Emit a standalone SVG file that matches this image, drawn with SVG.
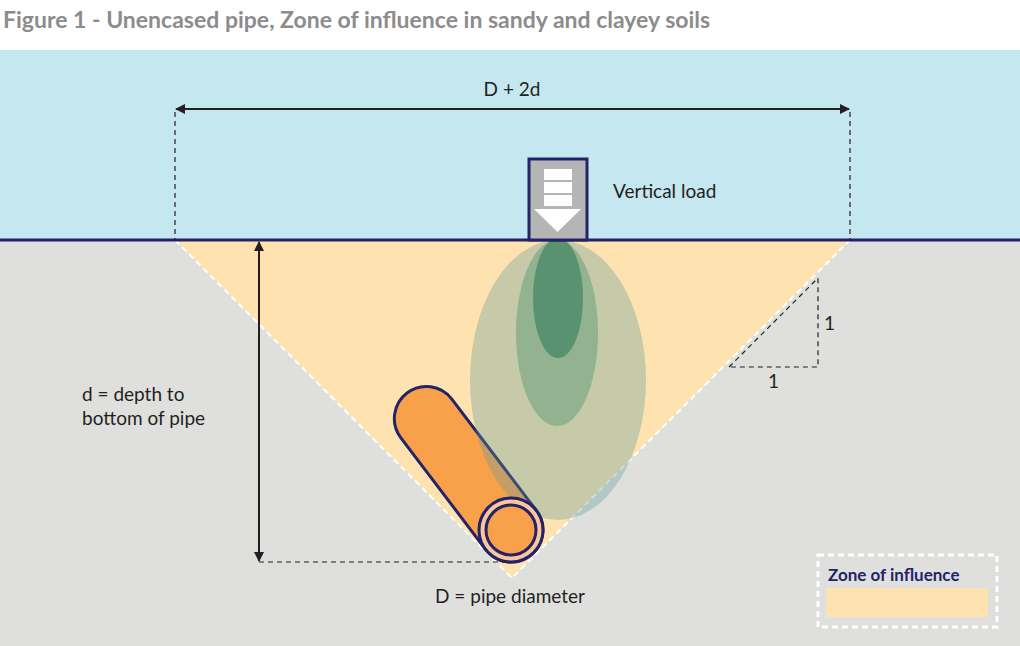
<svg xmlns="http://www.w3.org/2000/svg" width="1020" height="646" viewBox="0 0 1020 646">
<style>
.t{font-family:"Lato","Liberation Sans",sans-serif;fill:#231f20;font-size:19px}
.dash{stroke:#231f20;stroke-width:1.2;stroke-dasharray:5 4;fill:none}
.navy{stroke:#23236a;stroke-width:3}
</style>
<defs>
<marker id="ar" viewBox="0 0 10 10" refX="9" refY="5" markerWidth="10" markerHeight="10" markerUnits="userSpaceOnUse" orient="auto-start-reverse"><path d="M0,0 L10,5 L0,10 z" fill="#231f20"/></marker>
</defs>
<rect width="1020" height="646" fill="#fff"/>
<text x="3" y="28" style="font-family:'Lato','Liberation Sans',sans-serif;font-weight:bold;font-size:23px;fill:#8c8c8c">Figure 1 - Unencased pipe, Zone of influence in sandy and clayey soils</text>
<g id="sky"><rect x="0" y="50" width="1020" height="190" fill="#c5e7f0"/></g>
<g id="ground"><rect x="0" y="240" width="1020" height="406" fill="#dfe0de"/></g>
<g id="zone"><polygon points="175,240 850,240 512,578" fill="#fee3b0"/>
<polyline points="175,240 512,578 850,240" fill="none" stroke="#fff" stroke-width="2" stroke-dasharray="6 4"/></g>
<g id="pipe">
<g transform="translate(511,530) rotate(232.8)"><rect x="-32" y="-32" width="204" height="64" rx="32" fill="#f9a04b" class="navy"/></g>
</g>
<g id="stress">
<ellipse cx="558" cy="380" rx="88" ry="140" fill="#5f9a9c" opacity="0.35"/>
<ellipse cx="557" cy="333" rx="41" ry="93" fill="#5d9a77" opacity="0.5"/>
<ellipse cx="558" cy="298" rx="25" ry="60" fill="#4a8a68" opacity="0.8"/>
</g>
<g id="pipe-end">
<circle cx="511" cy="530" r="32" fill="#fbc79a" class="navy"/>
<circle cx="511" cy="530" r="25" fill="#f9a04b" class="navy"/>
</g>
<line x1="0" y1="240" x2="1020" y2="240" class="navy"/>
<g id="load">
<rect x="529" y="159" width="58" height="81" fill="#b5b5b5" class="navy"/>
<rect x="544" y="169" width="28" height="11" fill="#fff"/>
<rect x="544" y="182" width="28" height="11" fill="#fff"/>
<rect x="544" y="195" width="28" height="11" fill="#fff"/>
<polygon points="534,209 581,209 557.5,232" fill="#fff"/>
<text class="t" x="613" y="198">Vertical load</text>
</g>
<g id="connectors">
<line x1="176" y1="109" x2="849" y2="109" stroke="#231f20" stroke-width="2" marker-start="url(#ar)" marker-end="url(#ar)"/>
<line x1="175" y1="112" x2="175" y2="240" class="dash"/>
<line x1="850" y1="112" x2="850" y2="240" class="dash"/>
<line x1="259" y1="242" x2="259" y2="561" stroke="#231f20" stroke-width="2" marker-start="url(#ar)" marker-end="url(#ar)"/>
<line x1="259" y1="562" x2="505" y2="562" class="dash"/>
<polyline points="729,367 818,278 818,367 729,367" class="dash"/>
</g>
<text class="t" x="512" y="96" text-anchor="middle">D + 2d</text>
<text class="t" x="82" y="401">d = depth to</text>
<text class="t" x="82" y="425">bottom of pipe</text>
<text class="t" x="510" y="603" text-anchor="middle">D = pipe diameter</text>
<text class="t" x="824" y="330">1</text>
<text class="t" x="768" y="388">1</text>
<g id="legend">
<rect x="818" y="555" width="179" height="72" fill="none" stroke="#fff" stroke-width="3" stroke-dasharray="6 4"/>
<text x="828" y="581" style="font-family:'Lato','Liberation Sans',sans-serif;font-weight:bold;font-size:17px;fill:#23236a">Zone of influence</text>
<rect x="826" y="588" width="162" height="29" fill="#fee3b0"/>
</g>
</svg>
